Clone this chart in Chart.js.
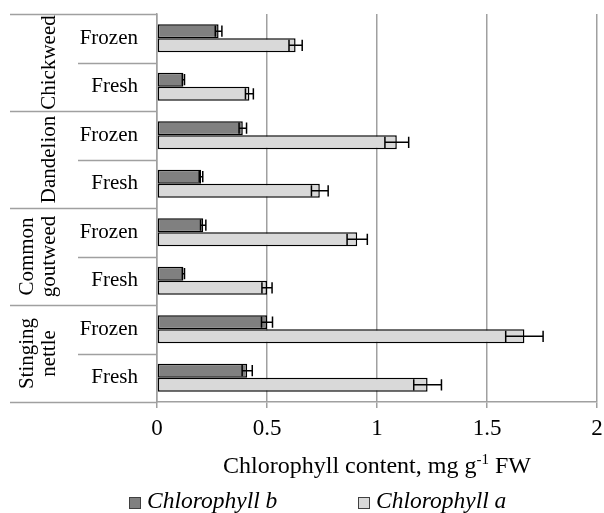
<!DOCTYPE html>
<html>
<head>
<meta charset="utf-8">
<script src="https://cdn.jsdelivr.net/npm/chart.js@4"></script>
<style>
  html, body { margin: 0; padding: 0; background: #fff; }
</style>
</head>
<body>
<canvas id="chart" width="604" height="513"></canvas>
<script>
// plant groups (each covers two rows), row labels and the two series
const groups = [["Chickweed"], ["Dandelion"], ["Common", "goutweed"], ["Stinging", "nettle"]]
const states = ["Frozen", "Fresh", "Frozen", "Fresh", "Frozen", "Fresh", "Frozen", "Fresh"]
const chlB = [0.28, 0.12, 0.39, 0.20, 0.21, 0.12, 0.50, 0.41]
const chlBErr = [0.015, 0.005, 0.017, 0.008, 0.012, 0.005, 0.025, 0.023]
const chlA = [0.63, 0.42, 1.09, 0.74, 0.91, 0.50, 1.67, 1.23]
const chlAErr = [0.03, 0.018, 0.054, 0.038, 0.046, 0.023, 0.085, 0.063]
const xTicks = [0, 0.5, 1, 1.5, 2]

const serif = "'Liberation Serif', 'Times New Roman', serif"
const lineGray = "#a0a0a0"
const errors = [chlBErr, chlAErr]

const errorBars = {
  id: "errorBars",
  afterDatasetsDraw(chart) {
    const ctx = chart.ctx
    const xs = chart.scales.x
    ctx.save()
    ctx.strokeStyle = "#000"
    ctx.lineWidth = 1.5
    chart.data.datasets.forEach((ds, di) => {
      const meta = chart.getDatasetMeta(di)
      meta.data.forEach((bar, i) => {
        const v = ds.data[i]
        const e = errors[di][i]
        const x1 = xs.getPixelForValue(v - e)
        const x2 = xs.getPixelForValue(v + e)
        const cap = bar.height * 0.8 / 2
        ctx.beginPath()
        ctx.moveTo(x1, bar.y); ctx.lineTo(x2, bar.y)
        ctx.moveTo(x1, bar.y - cap); ctx.lineTo(x1, bar.y + cap)
        ctx.moveTo(x2, bar.y - cap); ctx.lineTo(x2, bar.y + cap)
        ctx.stroke()
      })
    })
    ctx.restore()
  }
}

const tableAndText = {
  id: "tableAndText",
  afterDraw(chart) {
    const ctx = chart.ctx
    const ys = chart.scales.y
    const area = chart.chartArea
    const step = ys.getPixelForValue(1) - ys.getPixelForValue(0)
    const edge = i => ys.getPixelForValue(0) - step / 2 + i * step
    ctx.save()

    // row / group separators of the left table
    ctx.strokeStyle = lineGray
    ctx.lineWidth = 1.5
    for (let i = 0; i <= states.length; i++) {
      const y = Math.round(edge(i)) + 0.5
      ctx.beginPath()
      ctx.moveTo(i % 2 === 0 ? 10 : 78, y)
      ctx.lineTo(area.left, y)
      ctx.stroke()
    }

    // group names, rotated
    ctx.fillStyle = "#000"
    ctx.font = "21px " + serif
    ctx.textAlign = "center"
    ctx.textBaseline = "alphabetic"
    groups.forEach((lines, g) => {
      const cy = (edge(2 * g) + edge(2 * g + 2)) / 2
      ctx.save()
      ctx.translate(0, cy)
      ctx.rotate(-Math.PI / 2)
      lines.forEach((t, j) => {
        ctx.fillText(t, 0, 55 - (lines.length - 1 - j) * 22)
      })
      ctx.restore()
    })

    // axis title with superscript
    const tBase = area.bottom + 71
    const parts = [["Chlorophyll content, mg g", 24, 0], ["-1", 15, -9], [" FW", 24, 0]]
    let total = 0
    parts.forEach(p => { ctx.font = p[1] + "px " + serif; total += ctx.measureText(p[0]).width })
    let tx = (area.left + area.right) / 2 - total / 2
    ctx.textAlign = "left"
    parts.forEach(p => {
      ctx.font = p[1] + "px " + serif
      ctx.fillText(p[0], tx, tBase + p[2])
      tx += ctx.measureText(p[0]).width
    })

    // legend
    const lx = [129, 358]
    const lBase = area.bottom + 106
    ctx.font = "italic 23.5px " + serif
    chart.data.datasets.forEach((ds, di) => {
      ctx.fillStyle = ds.backgroundColor
      ctx.fillRect(lx[di], lBase - 11, 12, 12)
      ctx.strokeStyle = "#404040"
      ctx.lineWidth = 1
      ctx.strokeRect(lx[di] + 0.5, lBase - 10.5, 11, 11)
      ctx.fillStyle = "#000"
      ctx.fillText(ds.label, lx[di] + 18, lBase)
    })
    ctx.restore()
  }
}

new Chart(document.getElementById("chart"), {
  type: "bar",
  data: {
    labels: states,
    datasets: [
      {
        label: "Chlorophyll b",
        data: chlB,
        backgroundColor: "#808080",
        borderColor: "#000",
        borderWidth: 1.5,
        borderSkipped: false
      },
      {
        label: "Chlorophyll a",
        data: chlA,
        backgroundColor: "#d9d9d9",
        borderColor: "#000",
        borderWidth: 1.5,
        borderSkipped: false
      }
    ]
  },
  options: {
    indexAxis: "y",
    responsive: false,
    animation: false,
    categoryPercentage: 0.58,
    barPercentage: 1,
    layout: { padding: { top: 14, right: 7, bottom: 66, left: 0 } },
    plugins: {
      legend: { display: false },
      tooltip: { enabled: false }
    },
    scales: {
      x: {
        min: 0,
        max: 2,
        afterBuildTicks: s => { s.ticks = xTicks.map(v => ({ value: v })) },
        ticks: { color: "#000", font: { family: serif, size: 23 }, padding: 7, callback: v => String(v) },
        grid: { color: lineGray, lineWidth: 1.5, tickLength: 6 },
        border: { color: lineGray, width: 1.5 },
        afterFit: s => { s.height = 45; s.paddingLeft = 0; s.paddingRight = 0 }
      },
      y: {
        ticks: { color: "#000", font: { family: serif, size: 21 }, padding: 19 },
        grid: { display: false, drawTicks: false },
        border: { display: true, color: lineGray, width: 1.5 },
        afterFit: s => { s.width = 157; s.paddingTop = 0; s.paddingBottom = 0 }
      }
    }
  },
  plugins: [errorBars, tableAndText]
})
</script>
</body>
</html>
